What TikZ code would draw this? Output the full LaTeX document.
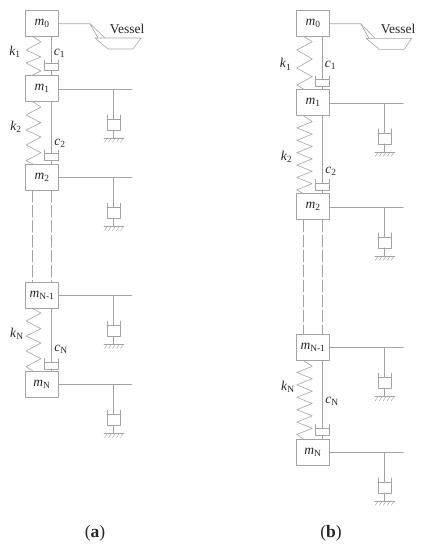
\documentclass[tikz,border=0pt]{standalone}
\usepackage{fontspec}
\setmainfont{Liberation Serif}
\tikzset{
  rod/.style={draw=black!36,line width=0.6pt},
  dashrod/.style={rod,dash pattern=on 12pt off 3pt},
  massbox/.style={draw=black!36,line width=0.6pt,minimum width=33.5pt,minimum height=26pt,inner sep=0pt,font=\fontsize{13.5}{15}\selectfont,text=black!85},
  tag/.style={inner sep=0pt,font=\fontsize{13.5}{15}\selectfont,text=black!85},
  cupdamper/.pic={
    \draw[rod] (-6.75,0) -- (-6.75,10.5) -- (6.75,10.5) -- (6.75,0);
    \draw[rod] (-6.75,3.5) -- (6.75,3.5);
    \coordinate (-piston) at (0,3.5);
    \coordinate (-base) at (0,10.5);
  },
  grounddamper/.pic={
    \draw[rod] (0,0) -- (0,29.5);
    \draw[rod] (-6.5,25.5) -- (-6.5,40.5) -- (6.5,40.5) -- (6.5,25.5);
    \draw[rod] (-6.5,29.5) -- (6.5,29.5);
    \draw[rod] (0,40.5) -- (0,48.5);
    \draw[rod] (-9.5,48.5) -- (10.5,48.5);
    \foreach \hx in {-6,-2,2,6,10} \draw[rod,line width=0.45pt] (\hx,48.5) -- (\hx-3,53);
  }
}
\newcommand{\msub}[2]{\textit{#1}\textsubscript{#2}}

\begin{document}
\begin{tikzpicture}[x=1pt,y=-1pt,line cap=round,line join=round]
  \useasboundingbox (0,0) rectangle (424,550);
  % panel a
  \node[massbox] (m0a) at (42,23) {\msub{m}{0}};
  \node[massbox] (m1a) at (42,88.3) {\msub{m}{1}};
  \node[massbox] (m2a) at (42,177) {\msub{m}{2}};
  \node[massbox] (mPa) at (42,295) {\msub{m}{N-1}};
  \node[massbox] (mNa) at (42,384) {\msub{m}{N}};
  \coordinate (s0a) at (32.5,0);
  \draw[rod] (m0a.south -| s0a) -- (41,42) -- (26,50) -- (41,57) -- (26,63) -- (41,71) -- (m1a.north -| s0a);
  \draw[rod] (m1a.south -| s0a) -- (41,107) -- (26,115) -- (41,122.7) -- (26,130) -- (41,137) -- (26,145) -- (41,152.7) -- (26,160.7) -- (m2a.north -| s0a);
  \draw[rod] (mPa.south -| s0a) -- (41,313) -- (26,321) -- (41,328.7) -- (26,336) -- (41,343) -- (26,351) -- (41,358.7) -- (26,366.7) -- (mNa.north -| s0a);
  \pic (d1a) at (51.25,60) {cupdamper};
  \pic (d2a) at (51.25,150) {cupdamper};
  \pic (dNa) at (51.25,358.5) {cupdamper};
  \draw[rod] (m0a.south -| d1a-piston) -- (d1a-piston);
  \draw[rod] (d1a-base) -- (m1a.north -| d1a-base);
  \draw[rod] (m1a.south -| d2a-piston) -- (d2a-piston);
  \draw[rod] (d2a-base) -- (m2a.north -| d2a-base);
  \draw[rod] (mPa.south -| dNa-piston) -- (dNa-piston);
  \draw[rod] (dNa-base) -- (mNa.north -| dNa-base);
  \draw[dashrod] (m2a.south -| s0a) -- (mPa.north -| s0a);
  \draw[dashrod] (m2a.south -| d2a-base) -- (mPa.north -| d2a-base);
  \node[tag] (k1a) at (15,52) {\msub{k}{1}};
  \node[tag] (c1a) at (59.5,53) {\msub{c}{1}};
  \node[tag] (k2a) at (16,127) {\msub{k}{2}};
  \node[tag] (c2a) at (60,143) {\msub{c}{2}};
  \node[tag] (kNa) at (17,334) {\msub{k}{N}};
  \node[tag] (cNa) at (61,349) {\msub{c}{N}};
  % vessel a
  \coordinate (e0a) at (90,23.7);
  \draw[rod] (e0a -| m0a.east) -- (e0a) -- (105,38);
  \draw[rod] (e0a) -- (98,38);
  \draw[rod] (95,38) -- (141,38) -- (133,49) -- (108,49) -- cycle;
  \node[tag] (va) at (127,28.5) {Vessel};
  % arms a
  \coordinate (e1a) at (132,89.3);
  \coordinate (e2a) at (132,177.7);
  \coordinate (ePa) at (132,295.7);
  \coordinate (eNa) at (132,384.7);
  \draw[rod] (e1a -| m1a.east) -- (e1a);
  \draw[rod] (e2a -| m2a.east) -- (e2a);
  \draw[rod] (ePa -| mPa.east) -- (ePa);
  \draw[rod] (eNa -| mNa.east) -- (eNa);
  \pic at (113.5,89.3) {grounddamper};
  \pic at (113.5,177.7) {grounddamper};
  \pic at (113.5,295.7) {grounddamper};
  \pic at (113.5,384.7) {grounddamper};
  % panel b
  \node[massbox] (m0b) at (313,23) {\msub{m}{0}};
  \node[massbox] (m1b) at (313,102.3) {\msub{m}{1}};
  \node[massbox] (m2b) at (313,206.7) {\msub{m}{2}};
  \node[massbox] (mPb) at (313,347.3) {\msub{m}{N-1}};
  \node[massbox] (mNb) at (313,452.3) {\msub{m}{N}};
  \coordinate (s0b) at (303.3,0);
  \draw[rod] (m0b.south -| s0b) -- (312.3,41.7) -- (296.7,50) -- (312.3,59) -- (296.7,68) -- (312.3,76.7) -- (296.7,85) -- (m1b.north -| s0b);
  \draw[rod] (m1b.south -| s0b) -- (312.3,121.7) -- (296.7,127.9) -- (312.3,134.1) -- (296.7,140.3) -- (312.3,146.5) -- (296.7,152.7) -- (312.3,158.9) -- (296.7,165.1) -- (312.3,171.3) -- (296.7,177.5) -- (312.3,183.7) -- (296.7,189.9) -- (m2b.north -| s0b);
  \draw[rod] (mPb.south -| s0b) -- (312.3,366.3) -- (296.7,372.5) -- (312.3,378.7) -- (296.7,384.9) -- (312.3,391.1) -- (296.7,397.3) -- (312.3,403.5) -- (296.7,409.7) -- (312.3,415.9) -- (296.7,422.1) -- (312.3,428.3) -- (296.7,434.5) -- (mNb.north -| s0b);
  \pic (d1b) at (322.2,76) {cupdamper};
  \pic (d2b) at (322.2,179.3) {cupdamper};
  \pic (dNb) at (322.2,424.5) {cupdamper};
  \draw[rod] (m0b.south -| d1b-piston) -- (d1b-piston);
  \draw[rod] (d1b-base) -- (m1b.north -| d1b-base);
  \draw[rod] (m1b.south -| d2b-piston) -- (d2b-piston);
  \draw[rod] (d2b-base) -- (m2b.north -| d2b-base);
  \draw[rod] (mPb.south -| dNb-piston) -- (dNb-piston);
  \draw[rod] (dNb-base) -- (mNb.north -| dNb-base);
  \draw[dashrod] (m2b.south -| s0b) -- (mPb.north -| s0b);
  \draw[dashrod] (m2b.south -| d2b-base) -- (mPb.north -| d2b-base);
  \node[tag] (k1b) at (285.7,64.3) {\msub{k}{1}};
  \node[tag] (c1b) at (330.5,65.7) {\msub{c}{1}};
  \node[tag] (k2b) at (286.7,156.7) {\msub{k}{2}};
  \node[tag] (c2b) at (331,171.7) {\msub{c}{2}};
  \node[tag] (kNb) at (288,386.7) {\msub{k}{N}};
  \node[tag] (cNb) at (332,401) {\msub{c}{N}};
  % vessel b
  \coordinate (e0b) at (360.7,23.7);
  \draw[rod] (e0b -| m0b.east) -- (e0b) -- (375,38.3);
  \draw[rod] (e0b) -- (369,38.3);
  \draw[rod] (366,38.3) -- (411.7,38.3) -- (404.3,49.3) -- (379.3,49.3) -- cycle;
  \node[tag] (vb) at (398,28.5) {Vessel};
  % arms b
  \coordinate (e1b) at (403.3,103.3);
  \coordinate (e2b) at (403.3,207.3);
  \coordinate (ePb) at (403.3,347.7);
  \coordinate (eNb) at (403.3,452.3);
  \draw[rod] (e1b -| m1b.east) -- (e1b);
  \draw[rod] (e2b -| m2b.east) -- (e2b);
  \draw[rod] (ePb -| mPb.east) -- (ePb);
  \draw[rod] (eNb -| mNb.east) -- (eNb);
  \pic at (384.3,103.3) {grounddamper};
  \pic at (384.3,207.3) {grounddamper};
  \pic at (384.3,347.7) {grounddamper};
  \pic at (384.3,452.3) {grounddamper};
  % captions
  \node[tag,font=\fontsize{17.5}{20}\selectfont] (capa) at (95,533) {(\textbf{a})};
  \node[tag,font=\fontsize{17.5}{20}\selectfont] (capb) at (331,533) {(\textbf{b})};
\end{tikzpicture}
\end{document}
